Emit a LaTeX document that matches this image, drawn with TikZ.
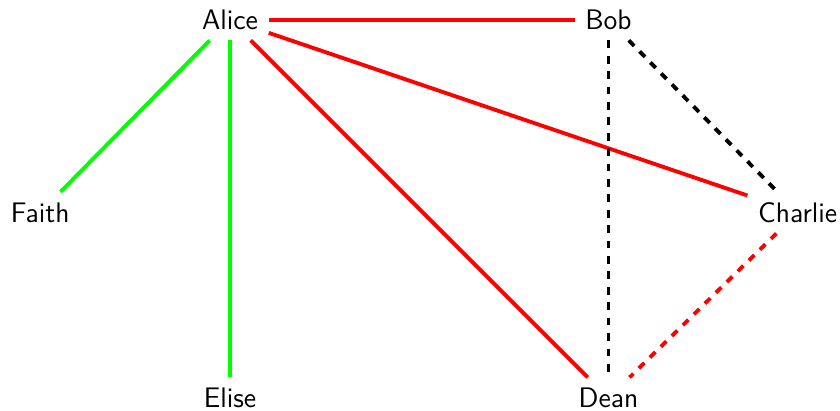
\documentclass[tikz,border=0pt]{standalone}
\begin{document}
\begin{tikzpicture}[font=\sffamily\fontsize{11}{13}\selectfont,
    person/.style={inner sep=4pt},
    friend/.style={red, line width=1.5pt},
    kin/.style={green, line width=1.5pt},
    open/.style={line width=1.5pt, dashed}]
        \useasboundingbox (0,0) rectangle (11.5,5.62);
        % ===== people =====
        \node[person] (alice) at (3.15, 5.35) {Alice};
        \node[person] (bob) at (8.33, 5.35) {Bob};
        \node[person] (faith) at (0.55, 2.71) {Faith};
        \node[person] (charlie) at (10.92, 2.71) {Charlie};
        \node[person] (elise) at (3.15, 0.17) {Elise};
        \node[person] (dean) at (8.33, 0.17) {Dean};

        % ===== links =====
        \draw[friend] (alice) -- (bob);
        \draw[friend] (alice) -- (charlie);
        \draw[friend] (alice) -- (dean);
        \draw[kin] (alice) -- (faith);
        \draw[kin] (alice) -- (elise);
        \draw[open] (bob) -- (dean);
        \draw[open] (bob) -- (charlie);
        \draw[open, red] (charlie) -- (dean);
    \end{tikzpicture}
\end{document}
